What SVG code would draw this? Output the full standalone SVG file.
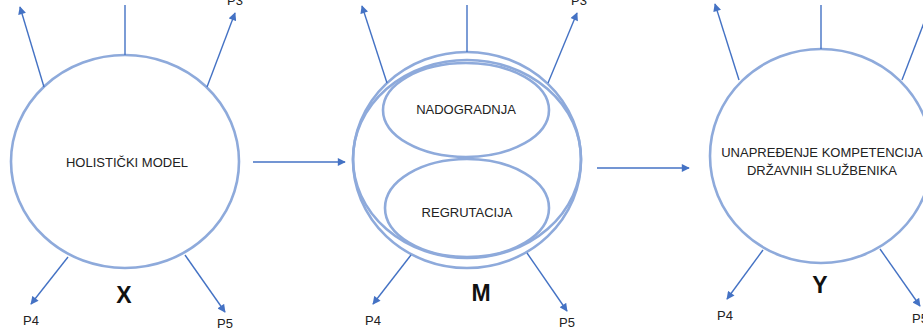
<svg xmlns="http://www.w3.org/2000/svg" width="923" height="330" viewBox="0 0 923 330">
<style>
.node{fill:none;stroke:#8eaadb;stroke-width:2.6}
.conn{fill:none;stroke:#4472c4;stroke-width:1.4}
.lbl{font-family:"Liberation Sans",Arial,sans-serif;font-size:13px;fill:#222;text-anchor:middle}
.plbl{font-family:"Liberation Sans",Arial,sans-serif;font-size:13px;fill:#222}
.big{font-family:"Liberation Sans",Arial,sans-serif;font-size:23px;font-weight:bold;fill:#111;text-anchor:middle}
</style>
<defs>
<marker id="ah" viewBox="0 0 10 10" refX="9" refY="5" markerWidth="9" markerHeight="8" markerUnits="userSpaceOnUse" orient="auto">
<path d="M0,0 L10,5 L0,10 z" fill="#4472c4"/>
</marker>
</defs>
<rect width="923" height="330" fill="#fff"/>

<g id="node-x">
<ellipse class="node" cx="125" cy="161.5" rx="114" ry="106.5"/>
<text class="lbl" x="127" y="167">HOLISTIČKI MODEL</text>
<text class="big" x="124" y="303">X</text>
</g>

<g id="node-m">
<ellipse class="node" cx="467" cy="160" rx="114" ry="108"/>
<ellipse class="node" cx="467" cy="159" rx="114" ry="99"/>
<g id="node-nadogradnja">
<ellipse class="node" cx="466" cy="110" rx="83" ry="47"/>
<text class="lbl" x="466" y="114">NADOGRADNJA</text>
</g>
<g id="node-regrutacija">
<ellipse class="node" cx="467" cy="208" rx="82" ry="49"/>
<text class="lbl" x="467" y="217">REGRUTACIJA</text>
</g>
<text class="big" x="481" y="301">M</text>
</g>

<g id="node-y">
<ellipse class="node" cx="821" cy="156" rx="111" ry="107"/>
<text class="lbl" x="822" y="157">UNAPREĐENJE KOMPETENCIJA</text>
<text class="lbl" x="822" y="175">DRŽAVNIH SLUŽBENIKA</text>
<text class="big" x="820" y="293">Y</text>
</g>

<g id="connectors">
<line class="conn" x1="253" y1="162" x2="345" y2="162" marker-end="url(#ah)"/>
<line class="conn" x1="597" y1="168" x2="689" y2="168" marker-end="url(#ah)"/>

<line class="conn" x1="44" y1="87" x2="20" y2="7" marker-end="url(#ah)"/>
<line class="conn" x1="125" y1="55" x2="125" y2="5"/>
<line class="conn" x1="207" y1="87" x2="235" y2="13" marker-end="url(#ah)"/>
<line class="conn" x1="68" y1="257" x2="31" y2="304" marker-end="url(#ah)"/>
<line class="conn" x1="185" y1="255" x2="225" y2="312" marker-end="url(#ah)"/>

<line class="conn" x1="387" y1="83" x2="362" y2="6" marker-end="url(#ah)"/>
<line class="conn" x1="467" y1="52" x2="467" y2="5"/>
<line class="conn" x1="548" y1="83" x2="577" y2="13" marker-end="url(#ah)"/>
<line class="conn" x1="411" y1="255" x2="373" y2="304" marker-end="url(#ah)"/>
<line class="conn" x1="527" y1="253" x2="567" y2="311" marker-end="url(#ah)"/>

<line class="conn" x1="739" y1="80" x2="715" y2="4" marker-end="url(#ah)"/>
<line class="conn" x1="821" y1="49" x2="821" y2="5"/>
<line class="conn" x1="902" y1="80" x2="925" y2="20"/>
<line class="conn" x1="763" y1="250" x2="727" y2="299" marker-end="url(#ah)"/>
<line class="conn" x1="880" y1="249" x2="920" y2="306" marker-end="url(#ah)"/>
</g>

<g id="labels">
<text class="plbl" x="227" y="5">P3</text>
<text class="plbl" x="571" y="5">P3</text>
<text class="plbl" x="23" y="325">P4</text>
<text class="plbl" x="217" y="328">P5</text>
<text class="plbl" x="365" y="325">P4</text>
<text class="plbl" x="559" y="327">P5</text>
<text class="plbl" x="717" y="320">P4</text>
<text class="plbl" x="912" y="323">P5</text>
</g>
</svg>
